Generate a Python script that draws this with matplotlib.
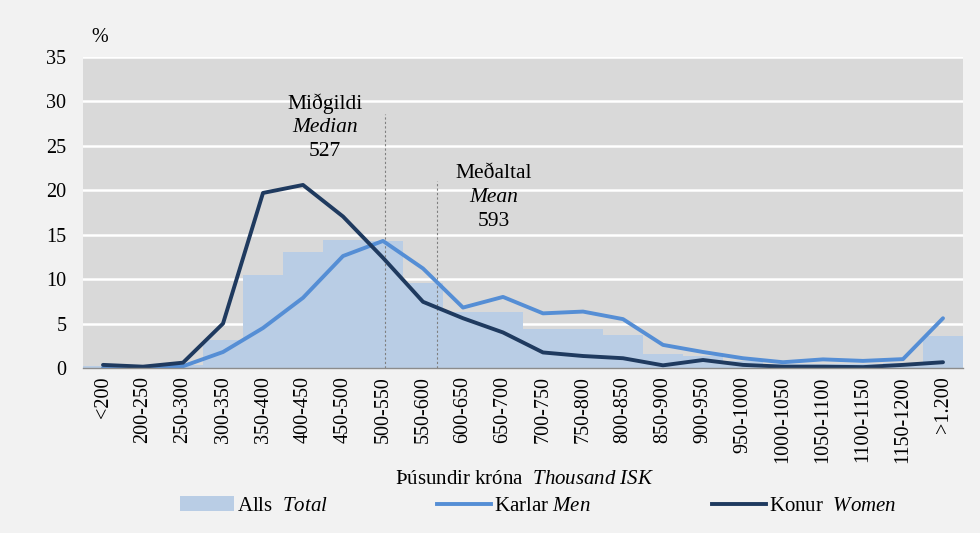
import matplotlib
matplotlib.use("Agg")
import matplotlib.pyplot as plt
import numpy as np
from matplotlib.patches import Patch
from matplotlib.lines import Line2D

plt.rcParams['font.family'] = ['Liberation Serif', 'DejaVu Serif']
plt.rcParams['mathtext.fontset'] = 'custom'
plt.rcParams['mathtext.rm'] = 'Liberation Serif'
plt.rcParams['mathtext.it'] = 'Liberation Serif:italic'

categories = ["<200", "200-250", "250-300", "300-350", "350-400", "400-450", "450-500",
              "500-550", "550-600", "600-650", "650-700", "700-750", "750-800", "800-850",
              "850-900", "900-950", "950-1000", "1000-1050", "1050-1100", "1100-1150",
              "1150-1200", ">1.200"]
total = [0.2, 0.1, 0.3, 3.1, 10.5, 13.0, 14.4, 14.3, 9.6, 6.35, 6.35, 4.35, 4.35, 3.7,
         1.55, 1.3, 0.8, 0.4, 0.5, 0.5, 0.6, 3.6]
men = [0.0, 0.05, 0.2, 1.8, 4.5, 7.9, 12.6, 14.3, 11.2, 6.8, 8.0, 6.15, 6.35, 5.5,
       2.6, 1.8, 1.1, 0.65, 0.97, 0.8, 1.0, 5.6]
women = [0.35, 0.15, 0.6, 5.0, 19.7, 20.6, 17.05, 12.4, 7.45, 5.6, 4.0, 1.75, 1.35, 1.1,
         0.3, 0.9, 0.35, 0.15, 0.15, 0.1, 0.35, 0.65]
median_value = 527
mean_value = 593
bin_start = 500   # lower edge of the "500-550" category
bin_index = 7
bin_width = 50

FS = 14.5
FA = 15.5

def val_to_x(v):
    return bin_index + (v - (bin_start + bin_width / 2)) / bin_width

fig = plt.figure(figsize=(9.8, 5.33), dpi=100, facecolor='#f2f2f2')
ax = fig.add_axes([83/980, 1-368/533, 880/980, 311/533])
ax.set_facecolor('#d9d9d9')

x = np.arange(len(categories))
ax.bar(x, total, width=1.0, color='#b9cde5', edgecolor='none', zorder=2)
ax.plot(x, men, color='#558ed5', lw=2.8, zorder=4, solid_capstyle='round')
ax.plot(x, women, color='#1f3a5f', lw=2.8, zorder=5, solid_capstyle='round')

ax.set_xlim(-0.5, len(categories) - 0.5)
ax.set_ylim(0, 35)
ax.set_yticks(range(0, 36, 5))
ax.yaxis.grid(True, color='white', lw=1.8, zorder=1)
ax.set_axisbelow(True)
for s in ['top', 'right', 'left']:
    ax.spines[s].set_visible(False)
ax.spines['bottom'].set_color('#8c8c8c')
ax.spines['bottom'].set_linewidth(1.0)
ax.spines['bottom'].set_zorder(6)
ax.tick_params(axis='y', length=0, labelsize=FS, pad=12)
ax.tick_params(axis='x', length=0, labelsize=FS, pad=6)
ax.set_xticks(x)
ax.set_xticklabels(categories, rotation=90)

# median / mean lines
mx = val_to_x(median_value)
ax.plot([mx, mx], [0, 28.6], color='#7f7f7f', lw=0.8, ls=(0, (2, 2)), zorder=3)
mnx = val_to_x(mean_value)
ax.plot([mnx, mnx], [0, 21.0], color='#7f7f7f', lw=0.8, ls=(0, (2, 2)), zorder=3)

tx = mx - 1.5
ax.text(tx, 29.8, "Miðgildi", ha='center', va='center', fontsize=FA)
ax.text(tx, 27.1, "Median", ha='center', va='center', fontsize=FA, style='italic')
ax.text(tx, 24.4, str(median_value), ha='center', va='center', fontsize=FA)
tx2 = mnx + 1.4
ax.text(tx2, 21.9, "Meðaltal", ha='center', va='center', fontsize=FA)
ax.text(tx2, 19.2, "Mean", ha='center', va='center', fontsize=FA, style='italic')
ax.text(tx2, 16.5, str(mean_value), ha='center', va='center', fontsize=FA)

fig.text(100/980, 1-38/533, "%", ha='center', va='center', fontsize=FS)
fig.text(525/980, 1-479/533, r"Þúsundir króna  $\it{Thousand\ ISK}$", ha='center',
         va='center', fontsize=15)

entries = [
    (Patch(facecolor='#b9cde5', edgecolor='none'), r"Alls  $\it{Total}$", 180),
    (Line2D([], [], color='#558ed5', lw=2.8), r"Karlar $\it{Men}$", 437),
    (Line2D([], [], color='#1f3a5f', lw=2.8), r"Konur  $\it{Women}$", 712),
]
for h, lab, x0 in entries:
    fig.legend([h], [lab], loc='center left', bbox_to_anchor=(x0/980, 1-506/533),
               frameon=False, fontsize=15, handlelength=2.6, handletextpad=0.15,
               borderaxespad=0, borderpad=0)

fig.savefig("out.png", dpi=100, facecolor=fig.get_facecolor())
